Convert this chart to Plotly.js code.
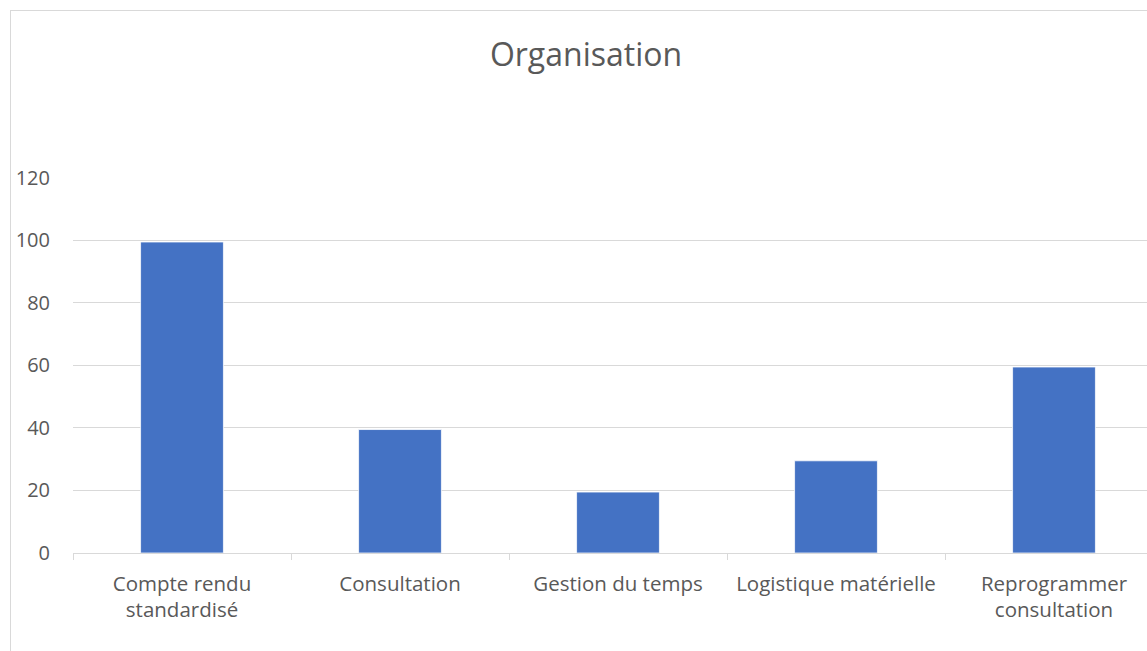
<!DOCTYPE html>
<html>
<head>
<meta charset="utf-8">
<script src="https://cdn.plot.ly/plotly-3.0.1.min.js"></script>
<style>
html,body{margin:0;padding:0;overflow:hidden;background:#fff;width:1147px;height:651px;}
#chart{position:absolute;left:0;top:0;width:1180px;height:651px;}
#frame{position:absolute;left:10px;top:10px;width:1300px;height:800px;border-left:1px solid #d9d9d9;border-top:1px solid #d9d9d9;pointer-events:none;}
</style>
</head>
<body>
<div id="chart"></div>
<div id="frame"></div>
<script>
const categories = ["Compte rendu<br>standardisé", "Consultation", "Gestion du temps", "Logistique matérielle", "Reprogrammer<br>consultation"];
const values = [99.5, 39.5, 19.5, 29.5, 59.5];
const yTicks = [0, 20, 40, 60, 80, 100, 120];

const font = "'Open Sans', sans-serif";
Plotly.newPlot('chart', [{
  type: 'bar',
  x: categories,
  y: values,
  marker: {color: '#4472c4', line: {color: '#ffffff', width: 0.75}},
  hoverinfo: 'none'
}], {
  width: 1180, height: 651,
  margin: {l: 73, r: 17, t: 177, b: 98, pad: 0},
  paper_bgcolor: 'rgba(0,0,0,0)',
  plot_bgcolor: 'rgba(0,0,0,0)',
  bargap: 0.62,
  showlegend: false,
  title: {text: 'Organisation', x: (586 - 73) / 1090, xref: 'paper', xanchor: 'center', y: 1 - 55/651, yanchor: 'middle',
          font: {family: font, size: 32, color: '#595959'}},
  font: {family: font, color: '#595959'},
  xaxis: {
    type: 'category',
    showline: true, linecolor: '#d9d9d9', linewidth: 1,
    ticks: 'outside', tickson: 'boundaries', ticklen: 6, tickcolor: '#d9d9d9', tickwidth: 1,
    ticklabelstandoff: 12,
    tickfont: {family: font, size: 20.5, color: '#595959'},
    showgrid: false, zeroline: false, fixedrange: true
  },
  yaxis: {
    range: [0, 120.3],
    tickvals: yTicks,
    ticktext: yTicks.map(String),
    showgrid: true, gridcolor: '#d9d9d9', gridwidth: 1,
    zeroline: false, showline: false,
    ticks: '', ticklabelstandoff: 22,
    tickfont: {family: font, size: 20, color: '#595959'},
    fixedrange: true
  }
}, {displayModeBar: false, staticPlot: true});
</script>
</body>
</html>
